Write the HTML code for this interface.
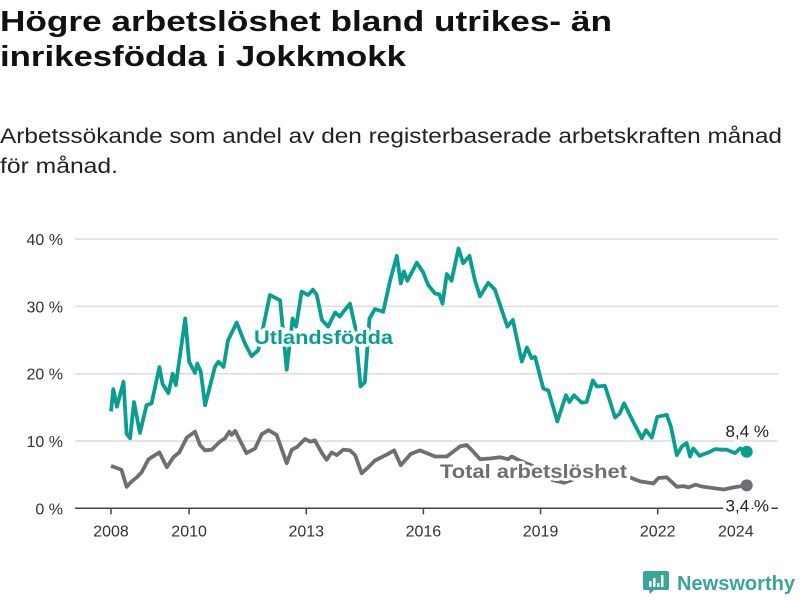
<!DOCTYPE html>
<html><head><meta charset="utf-8">
<style>
html,body{margin:0;padding:0;background:#fff;}
svg{display:block;font-family:"Liberation Sans",sans-serif;}
</style></head>
<body>
<svg id="chart" width="800" height="600" viewBox="0 0 800 600">
  <text x="0" y="31" font-size="29" font-weight="bold" fill="#111" textLength="612" lengthAdjust="spacingAndGlyphs">Högre arbetslöshet bland utrikes- än</text>
  <text x="0" y="66" font-size="29" font-weight="bold" fill="#111" textLength="406" lengthAdjust="spacingAndGlyphs">inrikesfödda i Jokkmokk</text>
  <text x="0" y="143" font-size="21" fill="#222" textLength="782" lengthAdjust="spacingAndGlyphs">Arbetssökande som andel av den registerbaserade arbetskraften månad</text>
  <text x="0" y="173" font-size="21" fill="#222" textLength="118" lengthAdjust="spacingAndGlyphs">för månad.</text>
  <g id="grid"></g>
  <g id="yaxis"></g>
  <g id="xaxis"></g>
  <g id="series"></g>
  <g id="labels"></g>
  <g>
    <path d="M645 571 h22 a2 2 0 0 1 2 2 v15 a2 2 0 0 1 -2 2 h-13 l-4 4 l-1 -4 h-4 a2 2 0 0 1 -2 -2 v-15 a2 2 0 0 1 2 -2z" fill="#3aa59a"/>
    <rect x="649" y="581" width="2.5" height="6" fill="#fff"/><rect x="653" y="578" width="2.5" height="9" fill="#fff"/><rect x="657" y="583" width="2.5" height="4" fill="#fff"/><rect x="661" y="575" width="2.5" height="12" fill="#fff"/>
    <text x="677" y="590" font-size="20" font-weight="bold" fill="#3aa59a" textLength="118" lengthAdjust="spacingAndGlyphs">Newsworthy</text>
  </g>
</svg>
<script>
const yTicks = [0, 10, 20, 30, 40];
const xTicks = [2008, 2010, 2013, 2016, 2019, 2022, 2024];
const foreignDates = [2008.0,2008.06,2008.15,2008.32,2008.4,2008.49,2008.59,2008.74,2008.91,2009.04,2009.24,2009.32,2009.47,2009.58,2009.66,2009.9,2010.0,2010.15,2010.21,2010.3,2010.41,2010.66,2010.75,2010.88,2011.0,2011.22,2011.43,2011.6,2011.77,2011.9,2012.07,2012.33,2012.5,2012.65,2012.74,2012.88,2013.05,2013.17,2013.27,2013.4,2013.56,2013.74,2013.86,2013.99,2014.12,2014.25,2014.39,2014.5,2014.62,2014.76,2014.97,2015.15,2015.32,2015.42,2015.5,2015.59,2015.83,2016.0,2016.12,2016.3,2016.41,2016.49,2016.6,2016.72,2016.9,2017.02,2017.18,2017.32,2017.45,2017.66,2017.83,2018.15,2018.29,2018.52,2018.65,2018.77,2018.86,2019.07,2019.2,2019.43,2019.65,2019.74,2019.86,2020.05,2020.18,2020.34,2020.44,2020.65,2020.91,2021.03,2021.14,2021.37,2021.59,2021.7,2021.85,2021.99,2022.23,2022.34,2022.49,2022.62,2022.74,2022.83,2022.91,2023.07,2023.3,2023.47,2023.64,2023.77,2023.98,2024.11,2024.28];
const foreignValues = [14.4,17.7,15.1,18.8,11.1,10.4,15.8,11.2,15.3,15.6,21.0,18.5,17.1,20.0,18.3,28.2,21.8,20.1,21.5,20.3,15.3,21.0,21.8,21.0,25.0,27.6,24.5,22.6,23.5,27.0,31.7,30.9,20.6,28.2,27.0,32.2,31.7,32.5,31.7,28.0,27.0,29.1,28.5,29.5,30.4,27.0,18.1,18.7,28.2,29.6,29.2,33.9,37.5,33.4,35.2,33.8,36.5,35.0,33.2,31.9,31.8,30.4,34.8,33.8,38.6,36.4,37.5,33.9,31.5,33.5,32.5,27.0,28.0,21.8,23.9,22.3,22.5,17.8,17.5,12.9,16.8,15.8,16.8,15.7,15.8,19.0,18.1,18.2,13.5,14.1,15.6,12.9,10.4,11.6,10.5,13.6,13.9,12.1,7.9,9.2,9.7,7.7,8.9,7.8,8.3,8.8,8.7,8.7,8.2,8.9,8.4];
const totalDates = [2008.0,2008.19,2008.27,2008.4,2008.53,2008.66,2008.79,2008.96,2009.13,2009.24,2009.43,2009.6,2009.75,2009.94,2010.15,2010.28,2010.41,2010.58,2010.79,2010.92,2011.03,2011.09,2011.18,2011.3,2011.47,2011.69,2011.86,2012.03,2012.24,2012.5,2012.63,2012.76,2012.97,2013.1,2013.22,2013.4,2013.52,2013.65,2013.78,2013.95,2014.12,2014.25,2014.42,2014.59,2014.76,2014.93,2015.1,2015.25,2015.42,2015.68,2015.91,2016.3,2016.6,2016.94,2017.11,2017.28,2017.45,2017.71,2017.96,2018.17,2018.26,2018.5,2018.8,2019.0,2019.3,2019.6,2019.9,2020.2,2020.5,2020.8,2021.1,2021.33,2021.55,2021.89,2022.02,2022.23,2022.49,2022.66,2022.79,2022.96,2023.17,2023.43,2023.69,2023.94,2024.28];
const totalValues = [6.3,5.9,5.7,3.2,4.0,4.6,5.4,7.3,7.9,8.3,6.1,7.6,8.3,10.5,11.4,9.4,8.6,8.7,9.9,10.4,11.4,10.9,11.5,10.1,8.2,8.9,11.0,11.6,10.9,6.7,8.7,9.1,10.3,9.9,10.1,8.2,7.2,8.3,7.9,8.7,8.6,7.9,5.2,6.1,7.1,7.6,8.1,8.6,6.4,8.1,8.6,7.7,7.7,9.2,9.4,8.4,7.3,7.4,7.6,7.3,7.7,7.0,6.3,5.5,4.2,3.8,4.4,5.0,6.3,5.8,5.0,4.5,4.0,3.7,4.5,4.6,3.2,3.3,3.1,3.5,3.2,3.0,2.8,3.1,3.4];

const NS = "http://www.w3.org/2000/svg";
const x0 = 111, pxPerYear = 39.05, y0 = 508.3, pxPerPct = 6.73;
const xs = t => x0 + (t - 2008) * pxPerYear;
const ys = v => y0 - v * pxPerPct;
function mk(tag, attrs, parent) {
  const el = document.createElementNS(NS, tag);
  for (const k in attrs) el.setAttribute(k, attrs[k]);
  parent.appendChild(el);
  return el;
}
const grid = document.getElementById('grid');
const yaxis = document.getElementById('yaxis');
const xaxis = document.getElementById('xaxis');
const series = document.getElementById('series');
const labels = document.getElementById('labels');

yTicks.forEach(v => {
  if (v > 0) {
    const g = mk('line', {x1: 75, x2: 778, y1: ys(v), y2: ys(v), stroke: '#dcdcdc', 'stroke-width': 1.5}, grid);
    
    
  }
  const t = mk('text', {x: 63, y: ys(v) + 6, 'text-anchor': 'end', 'font-size': 16, fill: '#333'}, yaxis);
  t.textContent = v + ' %';
  
  
});
const axisLine = mk('line', {x1: 75, x2: 778, y1: y0, y2: y0, stroke: '#444', 'stroke-width': 1.5}, xaxis);


xTicks.forEach(yr => {
  const tk = mk('line', {x1: xs(yr), x2: xs(yr), y1: y0, y2: y0 + 6, stroke: '#444', 'stroke-width': 1.5}, xaxis);
  
  
  const t = mk('text', {x: xs(yr), y: y0 + 28, 'text-anchor': 'middle', 'font-size': 16, fill: '#333'}, xaxis);
  t.textContent = yr;
  
  
});
function drawLine(dates, vals, color, name) {
  const d = dates.map((t, i) => (i ? 'L' : 'M') + xs(t).toFixed(1) + ' ' + ys(vals[i]).toFixed(1)).join(' ');
  const p = mk('path', {d: d, fill: 'none', stroke: color, 'stroke-width': 3.8, 'stroke-linejoin': 'round'}, series);
  
  
  const n = dates.length - 1;
  const c = mk('circle', {cx: xs(dates[n]), cy: ys(vals[n]), r: 6, fill: color}, series);
  
  
}
drawLine(totalDates, totalValues, '#6f6e74', 'total');
drawLine(foreignDates, foreignValues, '#0a9e91', 'foreign');

function label(x, y, txt, color, size, weight, anchor, name, len) {
  const attrs = {x: x, y: y, fill: color, 'font-size': size, 'font-weight': weight, 'text-anchor': anchor,
    stroke: '#fff', 'stroke-width': 6, 'paint-order': 'stroke', 'stroke-linejoin': 'round'};
  if (len) { attrs.textLength = len; attrs.lengthAdjust = 'spacingAndGlyphs'; }
  const t = mk('text', attrs, labels);
  t.textContent = txt;
  
  
}
label(254, 344, 'Utlandsfödda', '#0a9e91', 19, 'bold', 'start', 'foreign-series-label', 139);
label(440, 478, 'Total arbetslöshet', '#6f6e74', 19, 'bold', 'start', 'total-series-label', 187);
const nf = foreignValues.length - 1, nt = totalValues.length - 1;
label(769, ys(foreignValues[nf]) - 15, String(foreignValues[nf]).replace('.', ',') + ' %', '#222', 17, 'normal', 'end', 'foreign-end-value');
label(769, ys(totalValues[nt]) + 26, String(totalValues[nt]).replace('.', ',') + ' %', '#222', 17, 'normal', 'end', 'total-end-value');
</script>
</body></html>
